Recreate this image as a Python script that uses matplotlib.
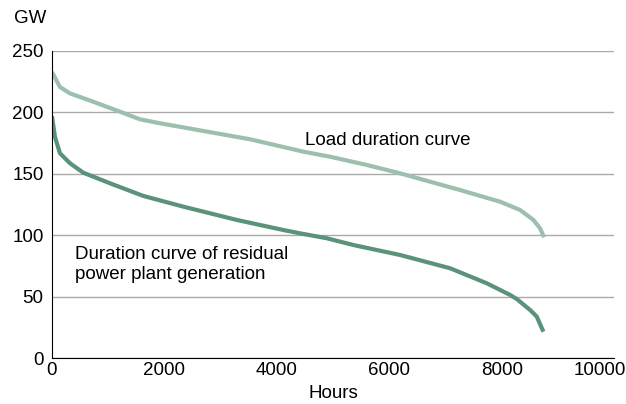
import matplotlib.pyplot as plt
from matplotlib.transforms import ScaledTranslation

plt.rcParams['font.family'] = ['Liberation Sans', 'DejaVu Sans']

# load duration curve (hours, GW)
load_hours = [0, 140, 320, 735, 1210, 1566, 1922, 2930, 3523, 4472, 4947,
              5600, 6192, 7260, 7972, 8327, 8564, 8683, 8754]
load_gw = [232.7, 220.6, 215.3, 208.5, 200.4, 194.2, 191, 182.8, 178, 167.9,
           163.8, 157.1, 150.3, 136.7, 127.2, 120.5, 112.4, 105.6, 98.3]

# residual power plant generation duration curve
resid_hours = [0, 53, 142, 320, 557, 1032, 1625, 2336, 3286, 4116, 4413, 4888,
               5361, 6192, 7082, 7734, 8150, 8268, 8505, 8624, 8742]
resid_gw = [196.9, 180, 166.6, 158.5, 150.8, 142.2, 131.9, 123.2, 112.4, 104.2,
            101.5, 97.5, 92, 83.9, 73.1, 60.9, 51.4, 48.1, 39.2, 33.8, 21.5]

FS = 13.5

fig = plt.figure(figsize=(6.26, 4.04), dpi=100)
ax = fig.add_axes([0.083, 0.1135, 0.898, 0.761])

ax.plot(load_hours, load_gw, color='#9dbfae', lw=3, solid_capstyle='butt')
ax.plot(resid_hours, resid_gw, color='#5b927a', lw=3, solid_capstyle='butt')

ax.set_xlim(0, 10000)
ax.set_ylim(0, 250)
ax.set_xticks([0, 2000, 4000, 6000, 8000, 10000])
ax.set_yticks([0, 50, 100, 150, 200, 250])
ax.yaxis.grid(True, color='#aaaaaa', lw=1)
ax.set_axisbelow(True)
for s in ['top', 'right']:
    ax.spines[s].set_visible(False)
ax.spines['left'].set_color('black')
ax.spines['bottom'].set_color('black')
ax.tick_params(length=0, labelsize=FS, pad=3)
ax.tick_params(axis='y', pad=6)

# keep the last x label inside the figure
last = ax.get_xticklabels()[-1]
last.set_transform(last.get_transform() + ScaledTranslation(-0.14, 0, fig.dpi_scale_trans))

ax.set_xlabel('Hours', fontsize=FS, labelpad=4)
fig.text(0.022, 0.955, 'GW', fontsize=FS, va='center')

ax.text(4500, 177, 'Load duration curve', fontsize=FS, va='center')
ax.text(410, 76, 'Duration curve of residual\npower plant generation',
        fontsize=FS, va='center', linespacing=1.2)

fig.savefig('out.png', dpi=100)
